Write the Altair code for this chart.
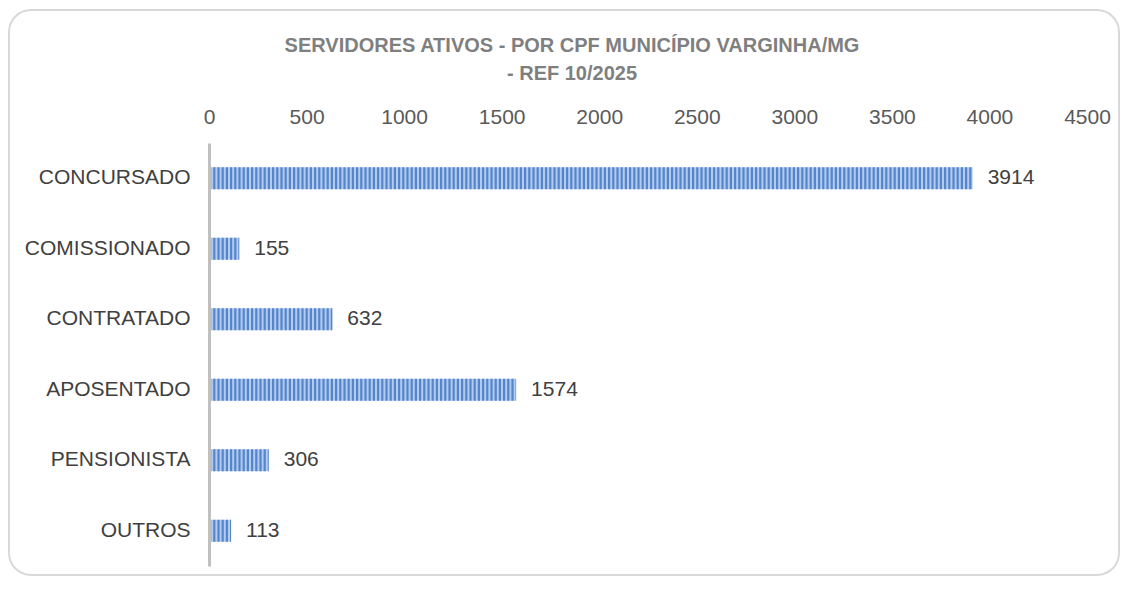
import altair as alt
import pandas as pd

categories = ["CONCURSADO", "COMISSIONADO", "CONTRATADO", "APOSENTADO", "PENSIONISTA", "OUTROS"]
values = [3914, 155, 632, 1574, 306, 113]
x_ticks = [0, 500, 1000, 1500, 2000, 2500, 3000, 3500, 4000, 4500]
title_lines = ["SERVIDORES ATIVOS - POR CPF MUNICÍPIO VARGINHA/MG", "- REF 10/2025"]

df = pd.DataFrame({"cat": categories, "val": values})

FONT = "Liberation Sans"

y_enc = alt.Y("cat:N", sort=categories, title=None,
              scale=alt.Scale(paddingInner=0, paddingOuter=0),
              axis=alt.Axis(domainColor="#c0c0c0", domainWidth=3, ticks=False,
                            labelColor="#404040", labelFontSize=21, labelFont=FONT,
                            labelPadding=19, grid=False, zindex=1))
x_enc = alt.X("val:Q", title=None,
              scale=alt.Scale(domain=[0, 4500], nice=False),
              axis=alt.Axis(orient="top", values=x_ticks, format="d", domain=False,
                            ticks=False, tickSize=0, grid=False, labelColor="#595959",
                            labelFontSize=21, labelFont=FONT, labelPadding=15.5,
                            labelFlush=False, zindex=1))

base = alt.Chart(df)

frame = alt.Chart(pd.DataFrame({"k": [0]})).mark_rect(
    fill="transparent", stroke="#d9d9d9", strokeWidth=2, cornerRadius=22
).encode(x=alt.value(-200), x2=alt.value(910), y=alt.value(-133), y2=alt.value(432))

bars = base.mark_bar(size=22, color="#b3cbee").encode(x=x_enc, y=y_enc)

stripes = base.mark_rule(strokeWidth=22, color="#5586cc", strokeDash=[2.2, 2.0],
                         strokeCap="butt").encode(
    x=alt.X("z:Q"), x2="val:Q", y=alt.Y("cat:N", sort=categories)
).transform_calculate(z="0")

labels = base.mark_text(align="left", baseline="middle", dx=15, fontSize=21,
                        font=FONT, color="#404040").encode(
    x="val:Q", y=alt.Y("cat:N", sort=categories), text="val:Q")

chart = alt.layer(bars, stripes, labels, frame).properties(
    width=878, height=423,
    autosize=alt.AutoSizeParams(type="none"),
    padding={"left": 201, "top": 135, "right": 33, "bottom": 10},
    title=alt.TitleParams(text=title_lines, font=FONT, fontSize=20, fontWeight="bold",
                          color="#7f7f7f", anchor="middle", frame="group", dx=-76,
                          dy=103, lineHeight=28, offset=28),
).configure_view(stroke=None)

chart.save("out.html", embed_options={"renderer": "svg", "actions": False})
